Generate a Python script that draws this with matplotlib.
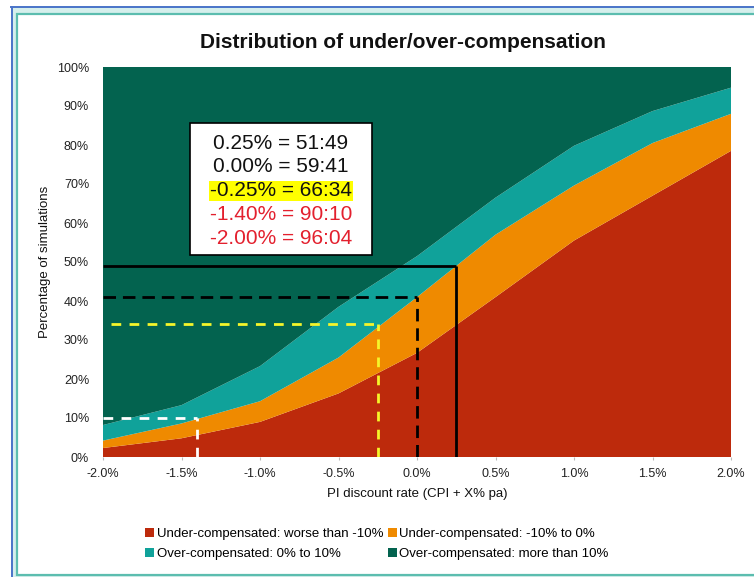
import matplotlib
matplotlib.use("Agg")
import matplotlib.pyplot as plt
from matplotlib.patches import Patch, Rectangle
from matplotlib.lines import Line2D

plt.rcParams['font.family'] = ['Liberation Sans', 'DejaVu Sans']

# PI discount rate (CPI + X% pa), in %
discount_rate = [-2.0, -1.5, -1.0, -0.5, 0.0, 0.5, 1.0, 1.5, 2.0]

# Share of simulations in each outcome band (%), stacked bottom to top
under_worse_10 = [2.3, 4.8, 9.0, 16.3, 26.7, 41.0, 55.5, 67.0, 78.5]
under_10_to_0 = [1.9, 3.8, 5.3, 9.2, 14.3, 16.0, 14.1, 13.5, 9.5]
over_0_to_10 = [4.0, 4.7, 9.0, 13.0, 10.5, 9.5, 10.2, 8.2, 6.7]
over_more_10 = [91.8, 86.7, 76.7, 61.5, 48.5, 33.5, 20.2, 11.3, 5.3]

band_labels = [
    "Under-compensated: worse than -10%",
    "Under-compensated: -10% to 0%",
    "Over-compensated: 0% to 10%",
    "Over-compensated: more than 10%",
]
band_colors = ["#BD2A0C", "#EF8A00", "#10A29A", "#03634F"]

# Split points: (discount rate %, under-compensated share %)
split_rates = [0.25, 0.00, -0.25, -1.40, -2.00]
split_under = [49, 41, 34, 10, 4]
split_text_colors = ["#111111", "#111111", "#111111", "#E3202E", "#E3202E"]

x_ticks = [-2.0, -1.5, -1.0, -0.5, 0.0, 0.5, 1.0, 1.5, 2.0]
y_ticks = list(range(0, 101, 10))

W, H = 754, 577
fig = plt.figure(figsize=(W / 100, H / 100), dpi=100)


def fx(px):
    return px / W


def fy(py):
    return 1 - py / H


# Outer frame
fig.add_artist(Rectangle((fx(11), 0), 1, fy(6.5), transform=fig.transFigure,
                         facecolor="#D6EFEC", edgecolor="none", zorder=-5))
fig.add_artist(Line2D([fx(11), 1], [fy(6.5), fy(6.5)], transform=fig.transFigure,
                      color="#4A74C9", lw=1.4, zorder=-4))
fig.add_artist(Line2D([fx(11.8), fx(11.8)], [0, fy(6.5)], transform=fig.transFigure,
                      color="#4A74C9", lw=1.4, zorder=-4))
fig.add_artist(Rectangle((fx(16.5), fy(574.5)), 1.2, fy(14) - fy(574.5),
                         transform=fig.transFigure, facecolor="white",
                         edgecolor="#5CBDAF", lw=1.6, zorder=-3))

ax = fig.add_axes([fx(103), fy(457), fx(731) - fx(103), fy(67) - fy(457)])
ax.stackplot(discount_rate, under_worse_10, under_10_to_0, over_0_to_10, over_more_10,
             colors=band_colors, labels=band_labels, linewidth=0)

ax.set_xlim(-2.0, 2.0)
ax.set_ylim(0, 100)
ax.set_xticks(x_ticks)
ax.set_xticklabels([f"{v:.1f}%" for v in x_ticks])
ax.set_yticks(y_ticks)
ax.set_yticklabels([f"{v}%" for v in y_ticks])
ax.tick_params(axis="x", length=2, color="#BBBBBB", pad=6, labelsize=9, labelcolor="#222222")
ax.tick_params(axis="y", length=0, pad=10, labelsize=9, labelcolor="#222222")
for s in ax.spines.values():
    s.set_visible(False)

# Guide lines to each split point
r25, r00, rm25, rm140 = split_rates[0], split_rates[1], split_rates[2], split_rates[3]
u25, u00, um25, um140 = split_under[0], split_under[1], split_under[2], split_under[3]
ax.plot([-2.0, r25], [u25, u25], color="black", lw=2, solid_capstyle="butt")
ax.plot([r25, r25], [0, u25], color="black", lw=2, solid_capstyle="butt")
ax.plot([-2.0, r00], [u00, u00], color="black", lw=2, dashes=(4.5, 2.5))
ax.plot([r00, r00], [0, u00], color="black", lw=2, dashes=(4.5, 2.5))
ax.plot([-1.95, rm25], [um25, um25], color="#F5F52A", lw=2, dashes=(3.5, 3))
ax.plot([rm25, rm25], [0, um25], color="#F5F52A", lw=2, dashes=(3.5, 3))
ax.plot([-2.0, rm140], [um140, um140], color="white", lw=2, dashes=(3.5, 3))
ax.plot([rm140, rm140], [0, um140], color="white", lw=2, dashes=(3.5, 3))

# Split ratio box
ax.add_patch(Rectangle((0.1385, 0.517), 0.2895, 0.34, transform=ax.transAxes,
                       facecolor="white", edgecolor="black", lw=1.2, zorder=5))
line_py = [143, 166, 190, 214, 238]
for i, (r, u) in enumerate(zip(split_rates, split_under)):
    txt = f"{r:.2f}% = {100 - u:02d}:{u:02d}"
    kw = {}
    if i == 2:
        kw["bbox"] = dict(facecolor="#FFFF00", edgecolor="none", pad=0.5)
    ax.text((281 - 103) / 628, (457 - line_py[i]) / 391, txt, transform=ax.transAxes,
            ha="center", va="center", fontsize=15, color=split_text_colors[i],
            zorder=6, **kw)

fig.text(fx(403), fy(43), "Distribution of under/over-compensation",
         ha="center", va="center", fontsize=15, fontweight="bold", color="#111111")
fig.text(fx(45), fy(262), "Percentage of simulations", rotation=90,
         ha="center", va="center", fontsize=9.5, color="#111111")
fig.text(fx(417), fy(494), "PI discount rate (CPI + X% pa)",
         ha="center", va="center", fontsize=9.5, color="#111111")

# Legend filled row by row (two columns)
handles = [Patch(facecolor=c, edgecolor="none") for c in band_colors]
order = [0, 2, 1, 3]
fig.legend([handles[i] for i in order], [band_labels[i] for i in order], ncol=2,
           loc="center", bbox_to_anchor=(fx(377), fy(544)),
           frameon=False, fontsize=9.5, handlelength=0.7, handleheight=0.7,
           handletextpad=0.2, columnspacing=0.3, labelspacing=0.6)

fig.savefig("out.png", dpi=100)
